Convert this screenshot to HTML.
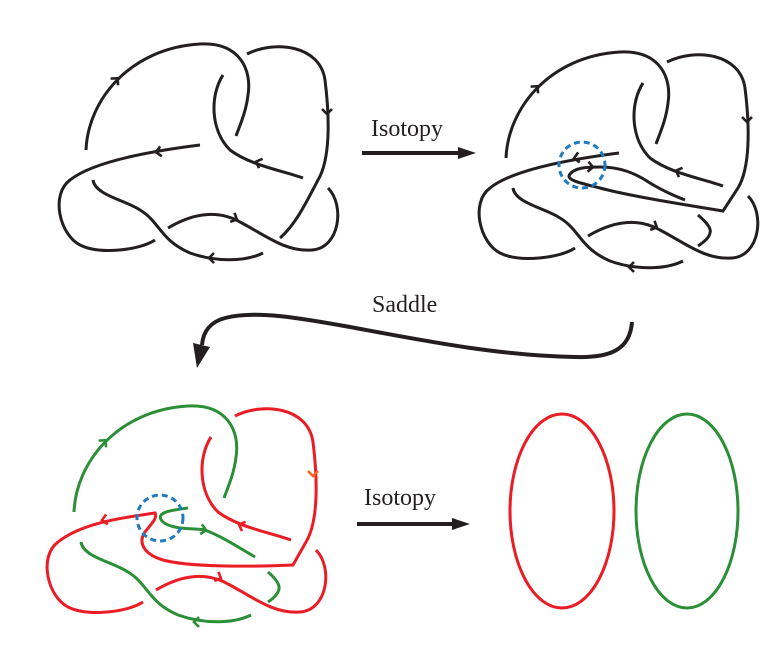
<!DOCTYPE html>
<html><head><meta charset="utf-8"><style>
html,body{margin:0;padding:0;background:#fff;}
svg{display:block;}
text{font-family:"Liberation Serif",serif;font-size:24px;fill:#231f20;}
</style></head><body>
<svg width="782" height="650" viewBox="0 0 782 650" xmlns="http://www.w3.org/2000/svg">
<defs>
<path id="ch" d="M-4,-5 L1,0 L-4,5" fill="none" stroke-width="2.6" stroke-linejoin="miter"/>
</defs>

<!-- Knot 1 -->
<g fill="none" stroke="#231f20" stroke-width="3" stroke-linecap="butt">
<path d="M86,150 C88,100 130,48 200,44 C240,42 252,70 248,95 C246,112 240,125 236,136"/>
<path d="M223,75 C210,95 210,130 230,150 C250,165 280,170 303,178"/>
<path d="M247,54 C275,40 320,45 325,80 C330,120 330,160 318,180 C305,205 295,225 280,238"/>
<path d="M200,145 C160,150 95,160 70,180 C50,195 60,235 80,245 C100,255 140,250 155,240"/>
<path d="M93,180 C95,195 125,200 140,210 C160,222 160,240 190,253 C215,262 245,262 263,253"/>
<path d="M168,228 C190,215 215,208 240,222 C265,235 285,252 312,250 C340,248 345,205 328,188"/>
<use href="#ch" transform="translate(117,79) rotate(-48)"/>
<use href="#ch" transform="translate(327,113) rotate(90)"/>
<use href="#ch" transform="translate(157,152) rotate(171)"/>
<use href="#ch" transform="translate(257,162) rotate(201)"/>
<use href="#ch" transform="translate(210,258) rotate(180)"/>
<use href="#ch" transform="translate(236,219) rotate(25)"/>
</g>

<!-- Isotopy 1 -->
<text x="371" y="136">Isotopy</text>
<line x1="362" y1="153" x2="462" y2="153" stroke="#231f20" stroke-width="4"/>
<polygon points="458,147 476,153 458,159" fill="#231f20"/>

<!-- Knot 2 -->
<g transform="translate(420,8)" fill="none" stroke="#231f20" stroke-width="3">
<path d="M86,150 C88,100 130,48 200,44 C240,42 252,70 248,95 C246,112 240,125 236,136"/>
<path d="M223,75 C210,95 210,130 230,150 C250,165 280,170 303,178"/>
<path d="M247,54 C275,40 320,45 325,80 C330,120 330,160 318,180 L303,203 C260,196 210,188 180,180 C160,175 145,172 150,166 C155,160 165,159 180,159 C200,159 215,165 230,175 C245,184 255,188 265,192"/>
<path d="M199,145 C160,150 95,160 70,180 C50,195 60,235 80,245 C100,255 140,250 155,240"/>
<path d="M93,180 C95,195 125,200 140,210 C160,222 160,240 190,253 C215,262 245,262 263,253"/>
<path d="M168,228 C190,215 215,208 240,222 C265,235 285,252 312,250 C340,248 345,205 328,188"/>
<path d="M278,207 C285,213 292,220 290,225 C289,230 284,234 278,238"/>
<use href="#ch" transform="translate(117,79) rotate(-48)"/>
<use href="#ch" transform="translate(327,113) rotate(90)"/>
<use href="#ch" transform="translate(155,150) rotate(171)"/>
<use href="#ch" transform="translate(257,163) rotate(201)"/>
<use href="#ch" transform="translate(210,259) rotate(180)"/>
<use href="#ch" transform="translate(236,219) rotate(25)"/>
<use href="#ch" transform="translate(172,159) rotate(5)"/>
</g>
<circle cx="582" cy="165" r="23" fill="none" stroke="#1f7bc1" stroke-width="3" stroke-dasharray="6,4"/>

<!-- Saddle -->
<text x="372" y="312">Saddle</text>
<path d="M632,322 C630,350 610,358 575,357 C500,356 420,340 350,327 C300,318 255,310 225,318 C210,322 203,332 202,345" fill="none" stroke="#231f20" stroke-width="4"/>
<polygon points="193,343 210,347 197,368" fill="#231f20"/>

<!-- Knot 3 -->
<g transform="translate(-12,362)" fill="none" stroke-width="3">
<g stroke="#2a8f36">
<path d="M86,150 C88,100 130,48 200,44 C240,42 252,70 248,95 C246,112 240,125 236,136"/>
<path d="M93,180 C95,195 125,200 140,210 C160,222 160,240 190,253 C215,262 245,262 263,253"/>
<path d="M200,146 C185,148 165,150 175,160 C185,168 205,166 217,168 C235,175 250,185 267,195"/>
<path d="M280,210 C287,216 292,222 291,227 C290,232 286,236 280,240"/>
<use href="#ch" transform="translate(117,79) rotate(-48)"/>
<use href="#ch" transform="translate(207,260) rotate(180)"/>
<use href="#ch" transform="translate(217,168) rotate(10)"/>
</g>
<g stroke="#ec1c24">
<path d="M223,75 C210,95 210,130 230,150 C250,165 280,170 303,178"/>
<path d="M247,54 C275,40 320,45 325,80 C330,120 330,160 318,180 L305,203 C260,205 200,205 175,198 C155,192 150,180 157,170 C163,162 170,156 167,151 C140,155 95,160 70,180 C50,195 60,235 80,245 C100,255 140,250 155,240"/>
<path d="M168,228 C190,215 215,208 240,222 C265,235 285,252 312,250 C340,248 345,205 328,188"/>
<use href="#ch" transform="translate(115,158) rotate(171)"/>
<use href="#ch" transform="translate(252,163) rotate(201)"/>
<use href="#ch" transform="translate(232,216) rotate(25)"/>
</g>
<use href="#ch" stroke="#f26522" transform="translate(325,113) rotate(90)"/>
</g>
<circle cx="160" cy="518" r="23" fill="none" stroke="#1f7bc1" stroke-width="3" stroke-dasharray="6,4"/>

<!-- Isotopy 2 -->
<text x="364" y="505">Isotopy</text>
<line x1="357" y1="524" x2="456" y2="524" stroke="#231f20" stroke-width="4"/>
<polygon points="452,518 470,524 452,530" fill="#231f20"/>

<!-- Ellipses -->
<ellipse cx="562" cy="511" rx="52" ry="97" fill="none" stroke="#ec1c24" stroke-width="3"/>
<ellipse cx="687" cy="511" rx="51" ry="97" fill="none" stroke="#2a8f36" stroke-width="3"/>
</svg>
</body></html>
